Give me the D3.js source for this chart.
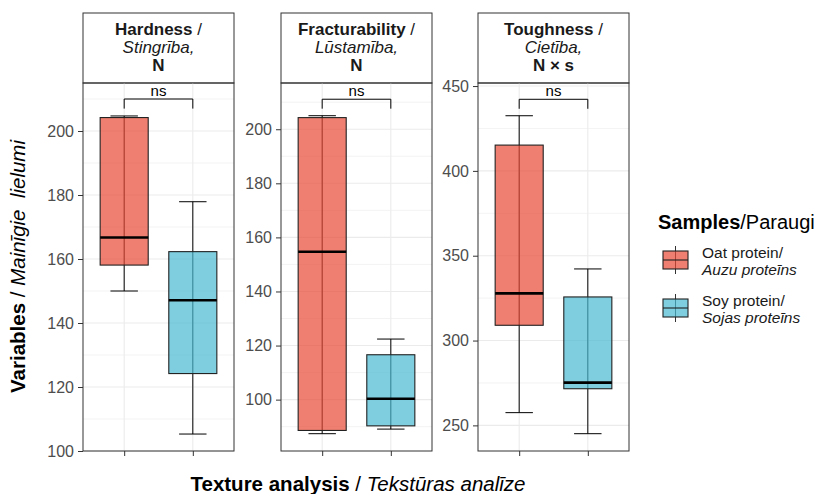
<!DOCTYPE html>
<html><head><meta charset="utf-8">
<script src="https://cdn.jsdelivr.net/npm/d3@7"></script>
<style>body{margin:0;background:#fff}svg{display:block}text{font-family:"Liberation Sans",Arial,sans-serif}</style>
</head><body><svg id="c" width="823" height="494"></svg>
<script>
// ---- data ----
const panelEN = ["Hardness", "Fracturability", "Toughness"];
const panelLV = ["Stingrība,", "Lūstamība,", "Cietība,"];
const panelUnit = ["N", "N", "N × s"];
const samples = ["Oat protein", "Soy protein"];
const samplesLV = ["Auzu proteīns", "Sojas proteīns"];
const oatMin = [150.0, 87.4, 257.5];
const oatQ1  = [158.1, 88.6, 309.0];
const oatMed = [166.7, 154.7, 327.8];
const oatQ3  = [204.2, 204.3, 415.2];
const oatMax = [204.7, 205.0, 432.5];
const soyMin = [105.3, 89.1, 245.1];
const soyQ1  = [124.2, 90.3, 271.6];
const soyMed = [147.1, 100.3, 275.2];
const soyQ3  = [162.3, 116.6, 325.7];
const soyMax = [177.9, 122.4, 342.2];
const yTicks = [[100,120,140,160,180,200],[100,120,140,160,180,200],[250,300,350,400,450]];
const yMinor = [[110,130,150,170,190,210],[90,110,130,150,170,190,210],[275,325,375,425]];
const yDomain = [[100,215],[81,217.1],[234.9,451.8]];
const bracketY = [210.0, 211.1, 442.2];
const bracketTip = [207.0, 207.6, 436.6];
const sigLabel = ["ns","ns","ns"];

// ---- layout ----
const svg = d3.select("#c");
const panelX = [83, 281, 478], panelW = 151;
const stripTop = 13, panelTop = 83, panelBot = 451;
const alpha = 0.7;
const fills = ["#E84833", "#47B9D3"];
const font = '"Liberation Sans",Arial,sans-serif';

const stats = [
  {min:oatMin,q1:oatQ1,med:oatMed,q3:oatQ3,max:oatMax},
  {min:soyMin,q1:soyQ1,med:soyMed,q3:soyQ3,max:soyMax}
];

panelEN.forEach((name, p) => {
  const x0 = panelX[p];
  const x = d3.scalePoint().domain(samples).range([x0, x0 + panelW]).padding(0.6);
  const y = d3.scaleLinear().domain(yDomain[p]).range([panelBot, panelTop]);
  const step = x.step();
  const g = svg.append("g");

  // strip
  g.append("rect").attr("x", x0).attr("y", stripTop).attr("width", panelW).attr("height", panelTop - stripTop)
    .attr("fill", "#fff").attr("stroke", "#333").attr("stroke-width", 1);
  const cx = x0 + panelW / 2;
  const t1 = g.append("text").attr("x", cx).attr("y", 35).attr("text-anchor", "middle").attr("font-size", 17).attr("fill", "#1a1a1a");
  t1.append("tspan").attr("font-weight", "bold").text(name);
  t1.append("tspan").text(" /");
  g.append("text").attr("x", cx).attr("y", 53).attr("text-anchor", "middle").attr("font-size", 17).attr("font-style", "italic").attr("fill", "#1a1a1a").text(panelLV[p]);
  g.append("text").attr("x", cx).attr("y", 71).attr("text-anchor", "middle").attr("font-size", 17).attr("font-weight", "bold").attr("fill", "#1a1a1a").text(panelUnit[p]);

  // grid
  g.selectAll(".mn").data(yMinor[p]).join("line")
    .attr("x1", x0).attr("x2", x0 + panelW).attr("y1", d => y(d)).attr("y2", d => y(d))
    .attr("stroke", "#EBEBEB").attr("stroke-width", 0.6);
  g.selectAll(".mj").data(yTicks[p]).join("line")
    .attr("x1", x0).attr("x2", x0 + panelW).attr("y1", d => y(d)).attr("y2", d => y(d))
    .attr("stroke", "#EBEBEB").attr("stroke-width", 1.1);
  g.selectAll(".vx").data(samples).join("line")
    .attr("x1", d => x(d)).attr("x2", d => x(d)).attr("y1", panelTop).attr("y2", panelBot)
    .attr("stroke", "#EBEBEB").attr("stroke-width", 1.1);

  // boxes
  samples.forEach((s, i) => {
    const st = stats[i];
    const xc = x(s), bw = step * 0.7, cw = step * 0.4;
    g.append("line").attr("x1", xc).attr("x2", xc).attr("y1", y(st.min[p])).attr("y2", y(st.max[p])).attr("stroke", "#000").attr("stroke-width", 1);
    [st.min[p], st.max[p]].forEach(v => g.append("line").attr("x1", xc - cw/2).attr("x2", xc + cw/2).attr("y1", y(v)).attr("y2", y(v)).attr("stroke", "#000").attr("stroke-width", 1));
    g.append("rect").attr("x", xc - bw/2).attr("width", bw).attr("y", y(st.q3[p])).attr("height", y(st.q1[p]) - y(st.q3[p]))
      .attr("fill", fills[i]).attr("fill-opacity", alpha).attr("stroke", "#222").attr("stroke-width", 1.1);
    g.append("line").attr("x1", xc - bw/2).attr("x2", xc + bw/2).attr("y1", y(st.med[p])).attr("y2", y(st.med[p])).attr("stroke", "#000").attr("stroke-width", 2.6);
  });

  // significance bracket
  const xa = x(samples[0]), xb = x(samples[1]);
  g.append("path").attr("d", `M${xa},${y(bracketTip[p])}V${y(bracketY[p])}H${xb}V${y(bracketTip[p])}`)
    .attr("fill", "none").attr("stroke", "#000").attr("stroke-width", 1);
  g.append("text").attr("x", (xa + xb) / 2).attr("y", y(bracketY[p]) - 3).attr("text-anchor", "middle").attr("font-size", 15).attr("fill", "#000").text(sigLabel[p]);

  // border
  g.append("rect").attr("x", x0).attr("y", panelTop).attr("width", panelW).attr("height", panelBot - panelTop)
    .attr("fill", "none").attr("stroke", "#333").attr("stroke-width", 1);

  // y axis
  const ya = g.append("g").attr("transform", `translate(${x0},0)`)
    .call(d3.axisLeft(y).tickValues(yTicks[p]).tickSize(5).tickPadding(4));
  ya.select(".domain").remove();
  ya.selectAll("line").attr("stroke", "#333");
  ya.selectAll("text").attr("fill", "#4D4D4D").attr("font-size", 16).attr("font-family", font);

  // x axis ticks (no labels)
  const xaG = g.append("g").attr("transform", `translate(0,${panelBot})`)
    .call(d3.axisBottom(x).tickSize(5).tickFormat(""));
  xaG.select(".domain").remove();
  xaG.selectAll("line").attr("stroke", "#333");
});

// axis titles
const xt = svg.append("text").attr("x", 358).attr("y", 491).attr("text-anchor", "middle").attr("font-size", 20.5).attr("fill", "#000");
xt.append("tspan").attr("font-weight", "bold").text("Texture analysis");
xt.append("tspan").text(" / ");
xt.append("tspan").attr("font-style", "italic").text("Tekstūras analīze");

const yt = svg.append("text").attr("transform", "translate(25,266.5) rotate(-90)").attr("text-anchor", "middle").attr("font-size", 20.5).attr("fill", "#000").style("white-space", "pre");
yt.append("tspan").attr("font-weight", "bold").text("Variables");
yt.append("tspan").text(" / ");
yt.append("tspan").attr("font-style", "italic").text("Mainīgie  lielumi");

// legend
const lg = svg.append("g");
const lt = lg.append("text").attr("x", 658).attr("y", 229).attr("font-size", 20).attr("fill", "#000");
lt.append("tspan").attr("font-weight", "bold").text("Samples");
lt.append("tspan").text("/Paraugi");
const keyY = [251, 299];
samples.forEach((s, i) => {
  const ky = keyY[i], kx = 663, kw = 25, kh = 18;
  lg.append("line").attr("x1", kx + kw/2).attr("x2", kx + kw/2).attr("y1", ky - 5).attr("y2", ky + kh + 5).attr("stroke", "#333").attr("stroke-width", 1);
  lg.append("rect").attr("x", kx).attr("y", ky).attr("width", kw).attr("height", kh)
    .attr("fill", fills[i]).attr("fill-opacity", alpha).attr("stroke", "#222").attr("stroke-width", 1.1);
  lg.append("line").attr("x1", kx).attr("x2", kx + kw).attr("y1", ky + kh/2).attr("y2", ky + kh/2).attr("stroke", "#222").attr("stroke-width", 1.1);
  lg.append("text").attr("x", 702).attr("y", ky + 6.5).attr("font-size", 15.5).attr("fill", "#1a1a1a").text(s + "/");
  lg.append("text").attr("x", 702).attr("y", ky + 24).attr("font-size", 15.5).attr("font-style", "italic").attr("fill", "#1a1a1a").text(samplesLV[i]);
});
</script></body></html>
